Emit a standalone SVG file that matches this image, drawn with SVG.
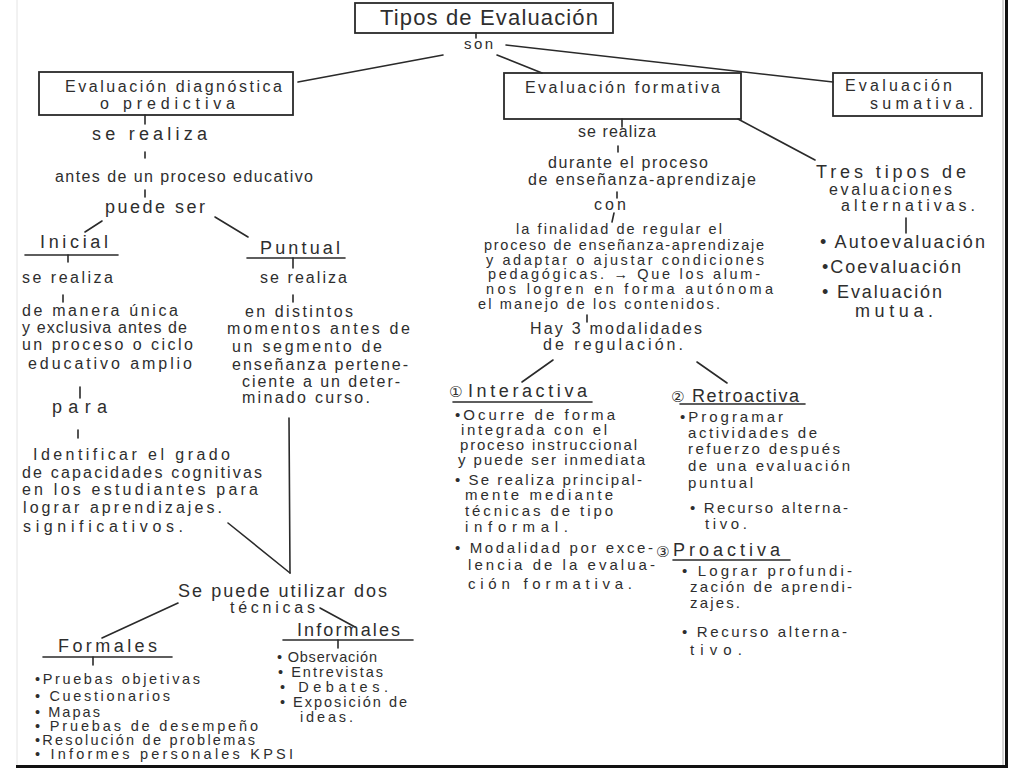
<svg xmlns="http://www.w3.org/2000/svg" width="1024" height="768" viewBox="0 0 1024 768">
<style>
text{font-family:"Liberation Sans","DejaVu Sans","Noto Sans CJK SC",sans-serif;font-size:16px;fill:#2e2e2e}
.big{font-size:22px}
.h{font-size:18px}
.s{font-size:15px}
.l{font-size:14.5px}
.box{fill:none;stroke:#2a2a2a;stroke-width:1.8}
.ln{fill:none;stroke:#2a2a2a;stroke-width:1.6;stroke-linecap:round}
</style>
<rect x="0" y="0" width="1024" height="768" fill="#ffffff"/>
<g id="frame">
<line x1="17" y1="0" x2="17" y2="766" stroke="#e4e4e4" stroke-width="1"/>
<line x1="1003" y1="0" x2="1003" y2="766" stroke="#aaaaaa" stroke-width="1"/>
<line x1="1006.5" y1="0" x2="1006.5" y2="768" stroke="#111" stroke-width="3"/>
<rect x="16" y="765" width="992" height="3" fill="#111"/>
</g>
<g id="connectors">
<line class="ln" x1="476" y1="33" x2="476" y2="38"/>
<line class="ln" x1="443" y1="55" x2="298" y2="82"/>
<line class="ln" x1="497" y1="55" x2="542" y2="73"/>
<line class="ln" x1="506" y1="45" x2="833" y2="82"/>
<line class="ln" x1="738" y1="119" x2="815" y2="160"/>
<line class="ln" x1="145" y1="115" x2="145" y2="124"/>
<line class="ln" x1="145" y1="152" x2="145" y2="158"/>
<line class="ln" x1="145" y1="190" x2="145" y2="197"/>
<line class="ln" x1="102" y1="221" x2="85" y2="232"/>
<line class="ln" x1="215" y1="217" x2="248" y2="237"/>
<line class="ln" x1="68" y1="255" x2="68" y2="262"/>
<line class="ln" x1="63" y1="295" x2="63" y2="302"/>
<line class="ln" x1="80" y1="387" x2="80" y2="398"/>
<line class="ln" x1="78" y1="430" x2="78" y2="438"/>
<line class="ln" x1="293" y1="258" x2="293" y2="268"/>
<line class="ln" x1="293" y1="295" x2="293" y2="302"/>
<line class="ln" x1="289" y1="418" x2="290" y2="573"/>
<line class="ln" x1="228" y1="523" x2="290" y2="573"/>
<line class="ln" x1="178" y1="603" x2="102" y2="638"/>
<line class="ln" x1="320" y1="608" x2="355" y2="627"/>
<line class="ln" x1="93" y1="657" x2="93" y2="665"/>
<line class="ln" x1="338" y1="640" x2="338" y2="648"/>
<line class="ln" x1="622" y1="119" x2="622" y2="127"/>
<line class="ln" x1="618" y1="146" x2="618" y2="152"/>
<line class="ln" x1="617" y1="192" x2="617" y2="198"/>
<line class="ln" x1="614" y1="213" x2="612" y2="222"/>
<line class="ln" x1="587" y1="315" x2="587" y2="322"/>
<line class="ln" x1="553" y1="360" x2="522" y2="382"/>
<line class="ln" x1="697" y1="362" x2="727" y2="383"/>
<line class="ln" x1="906" y1="218" x2="906" y2="233"/>
</g>
<g id="n-tipos">
<rect class="box" x="355" y="3" width="258" height="30"/>
<text class="big" x="380" y="25" textLength="218">Tipos de Evaluación</text>
</g>
<g id="l-son"><text class="s" x="464" y="49" textLength="29">son</text></g>
<g id="n-diagnostica">
<rect class="box" x="39" y="72" width="254" height="43"/>
<text x="65" y="92" textLength="217">Evaluación diagnóstica</text>
<text x="100" y="109" textLength="135">o predictiva</text>
</g>
<g id="n-formativa">
<rect class="box" x="504" y="73" width="237" height="46"/>
<text x="525" y="93" textLength="195">Evaluación formativa</text>
</g>
<g id="n-sumativa">
<rect class="box" x="833" y="73" width="149" height="43"/>
<text x="845" y="91" textLength="107">Evaluación</text>
<text x="870" y="109" textLength="103">sumativa.</text>
</g>
<g id="l-diag-realiza"><text class="h" x="92" y="140" textLength="115">se realiza</text></g>
<g id="n-antes"><text x="55" y="182" textLength="258">antes de un proceso educativo</text></g>
<g id="l-puede"><text class="h" x="105" y="213" textLength="100">puede ser</text></g>
<g id="n-inicial">
<text class="h" x="40" y="248" textLength="68">Inicial</text>
<line class="ln" x1="25" y1="255" x2="118" y2="255"/>
</g>
<g id="l-inicial-realiza"><text x="22" y="283" textLength="91">se realiza</text></g>
<g id="n-inicial-desc">
<text x="22" y="316" textLength="156">de manera única</text>
<text x="22" y="333" textLength="165">y exclusiva antes de</text>
<text x="22" y="350" textLength="171">un proceso o ciclo</text>
<text x="28" y="369" textLength="164">educativo amplio</text>
</g>
<g id="l-para"><text class="h" x="52" y="413" textLength="55">para</text></g>
<g id="n-identificar">
<text x="33" y="460" textLength="197">Identificar el grado</text>
<text x="22" y="478" textLength="240">de capacidades cognitivas</text>
<text x="22" y="495" textLength="236">en los estudiantes para</text>
<text x="23" y="513" textLength="199">lograr aprendizajes.</text>
<text x="23" y="532" textLength="160">significativos.</text>
</g>
<g id="n-puntual">
<text class="h" x="260" y="254" textLength="80">Puntual</text>
<line class="ln" x1="247" y1="258" x2="345" y2="258"/>
</g>
<g id="l-puntual-realiza"><text x="260" y="283" textLength="87">se realiza</text></g>
<g id="n-puntual-desc">
<text x="245" y="317" textLength="108">en distintos</text>
<text x="227" y="334" textLength="183">momentos antes de</text>
<text x="232" y="352" textLength="150">un segmento de</text>
<text x="232" y="370" textLength="176">enseñanza pertene-</text>
<text x="242" y="387" textLength="158">ciente a un deter-</text>
<text x="242" y="403" textLength="128">minado curso.</text>
</g>
<g id="l-tecnicas">
<text class="h" x="178" y="597" textLength="209">Se puede utilizar dos</text>
<text x="230" y="613" textLength="85">técnicas</text>
</g>
<g id="n-formales">
<text class="h" x="58" y="652" textLength="99">Formales</text>
<line class="ln" x1="43" y1="657" x2="172" y2="657"/>
<text class="l" x="35" y="684" textLength="165">•Pruebas objetivas</text>
<text class="l" x="35" y="701" textLength="135">• Cuestionarios</text>
<text class="l" x="35" y="717" textLength="65">• Mapas</text>
<text class="l" x="35" y="731" textLength="223">• Pruebas de desempeño</text>
<text class="l" x="35" y="745" textLength="220">•Resolución de problemas</text>
<text class="l" x="35" y="759" textLength="258">• Informes personales KPSI</text>
</g>
<g id="n-informales">
<text class="h" x="297" y="636" textLength="103">Informales</text>
<line class="ln" x1="283" y1="640" x2="413" y2="640"/>
<text class="l" x="277" y="662" textLength="100">• Observación</text>
<text class="l" x="278" y="677" textLength="105">• Entrevistas</text>
<text class="l" x="280" y="692" textLength="108">• Debates.</text>
<text class="l" x="280" y="707" textLength="127">• Exposición de</text>
<text class="l" x="300" y="722" textLength="53">ideas.</text>
</g>
<g id="l-form-realiza"><text x="578" y="137" textLength="78">se realiza</text></g>
<g id="n-durante">
<text x="548" y="168" textLength="160">durante el proceso</text>
<text x="528" y="185" textLength="228">de enseñanza-aprendizaje</text>
</g>
<g id="l-con"><text x="594" y="210" textLength="32">con</text></g>
<g id="n-finalidad">
<text class="l" x="516" y="234" textLength="206">la finalidad de regular el</text>
<text class="l" x="484" y="250" textLength="280">proceso de enseñanza-aprendizaje</text>
<text class="l" x="486" y="265" textLength="278">y adaptar o ajustar condiciones</text>
<text class="l" x="488" y="279" textLength="272">pedagógicas. → Que los alum-</text>
<text class="l" x="486" y="294" textLength="287">nos logren en forma autónoma</text>
<text class="l" x="478" y="309" textLength="242">el manejo de los contenidos.</text>
</g>
<g id="n-modalidades">
<text x="530" y="334" textLength="172">Hay 3 modalidades</text>
<text x="543" y="350" textLength="140">de regulación.</text>
</g>
<g id="n-interactiva">
<text class="s" x="449" y="397">①</text>
<text class="h" x="468" y="397" textLength="119">Interactiva</text>
<line class="ln" x1="453" y1="402" x2="592" y2="402"/>
<text class="s" x="455" y="420" textLength="160">•Ocurre de forma</text>
<text class="s" x="461" y="435" textLength="146">integrada con el</text>
<text class="s" x="460" y="450" textLength="177">proceso instruccional</text>
<text class="s" x="458" y="465" textLength="187">y puede ser inmediata</text>
<text class="s" x="455" y="485" textLength="187">• Se realiza principal-</text>
<text class="s" x="465" y="500" textLength="148">mente mediante</text>
<text class="s" x="465" y="516" textLength="148">técnicas de tipo</text>
<text class="s" x="465" y="532" textLength="103">informal.</text>
<text class="s" x="455" y="553" textLength="198">• Modalidad por exce-</text>
<text class="s" x="468" y="570" textLength="187">lencia de la evalua-</text>
<text class="s" x="468" y="589" textLength="164">ción formativa.</text>
</g>
<g id="n-retroactiva">
<text class="s" x="671" y="402">②</text>
<text class="h" x="692" y="402" textLength="107">Retroactiva</text>
<line class="ln" x1="680" y1="404" x2="805" y2="404"/>
<text class="s" x="680" y="422" textLength="103">•Programar</text>
<text class="s" x="688" y="438" textLength="129">actividades de</text>
<text class="s" x="688" y="454" textLength="152">refuerzo después</text>
<text class="s" x="688" y="471" textLength="162">de una evaluación</text>
<text class="s" x="688" y="488" textLength="65">puntual</text>
<text class="s" x="690" y="513" textLength="158">• Recurso alterna-</text>
<text class="s" x="705" y="529" textLength="42">tivo.</text>
</g>
<g id="n-proactiva">
<text class="s" x="656" y="557">③</text>
<text class="h" x="673" y="556" textLength="107">Proactiva</text>
<line class="ln" x1="673" y1="560" x2="790" y2="560"/>
<text class="s" x="682" y="576" textLength="170">• Lograr profundi-</text>
<text class="s" x="690" y="592" textLength="162">zación de aprendi-</text>
<text class="s" x="690" y="608" textLength="50">zajes.</text>
<text class="s" x="682" y="637" textLength="165">• Recurso alterna-</text>
<text class="s" x="690" y="655" textLength="52">tivo.</text>
</g>
<g id="n-tres-tipos">
<text class="h" x="816" y="178" textLength="150">Tres tipos de</text>
<text x="829" y="195" textLength="123">evaluaciones</text>
<text x="841" y="211" textLength="134">alternativas.</text>
</g>
<g id="n-alternativas">
<text class="h" x="820" y="248" textLength="165">• Autoevaluación</text>
<text class="h" x="822" y="273" textLength="139">•Coevaluación</text>
<text class="h" x="822" y="298" textLength="120">• Evaluación</text>
<text class="h" x="855" y="317" textLength="78">mutua.</text>
</g>
</svg>
